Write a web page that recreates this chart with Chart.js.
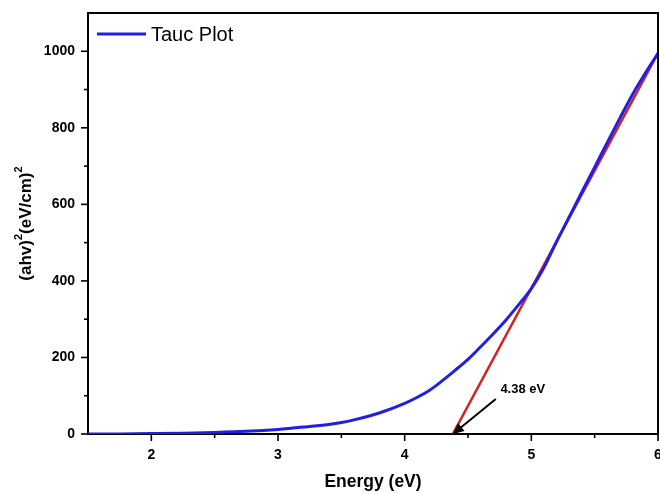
<!DOCTYPE html>
<html>
<head>
<meta charset="utf-8">
<script src="https://cdn.jsdelivr.net/npm/chart.js@4/dist/chart.umd.min.js"></script>
<style>
  html, body { margin: 0; padding: 0; background: #fff; }
  #wrap { width: 660px; height: 494px; }
</style>
</head>
<body>
<div id="wrap"><canvas id="tauc"></canvas></div>
<script>
// Tauc plot data
const energy = [1.5, 1.75, 2, 2.25, 2.5, 2.75, 3, 3.2, 3.4, 3.5, 3.6, 3.8, 4, 4.1, 4.2, 4.3, 4.4, 4.5,
                4.6, 4.7, 4.8, 4.9, 5, 5.1, 5.2, 5.3, 5.4, 5.5, 5.6, 5.7, 5.8, 5.9, 6];
const absorption = [0, 0.3, 1, 2, 4, 7, 12, 18, 25, 30, 37, 55, 80, 96, 115, 140, 167, 195,
                    228, 262, 298, 338, 380, 435, 503, 568, 633, 697, 762, 826, 888, 943, 995];
// linear fit extrapolated to the energy axis
const fitEnergy = [4.38, 6];
const fitValue = [0, 995];
const xTicks = [2, 3, 4, 5, 6];
const yTicks = [0, 200, 400, 600, 800, 1000];
const seriesName = 'Tauc Plot';
const gapLabel = '4.38 eV';
const gapEnergy = 4.38;

const FONT = "'Liberation Sans', Arial, sans-serif";
const BLUE = '#1f1fe8';

// frame, minor ticks, legend, y title and the band gap arrow
const extras = {
    id: 'extras',
    afterDraw(chart) {
        const ctx = chart.ctx;
        const a = chart.chartArea;
        const x = chart.scales.x, y = chart.scales.y;
        ctx.save();
        ctx.strokeStyle = '#000';
        ctx.lineWidth = 2;
        // top + right frame
        ctx.beginPath();
        ctx.moveTo(a.left, a.top);
        ctx.lineTo(a.right, a.top);
        ctx.lineTo(a.right, a.bottom);
        ctx.stroke();

        // ticks (outward)
        ctx.lineWidth = 1.6;
        x.ticks.forEach(t => {
            const px = x.getPixelForValue(t.value);
            if (px <= a.left + 1 || px > a.right + 1) return;
            const len = Number.isInteger(t.value) ? 7 : 4;
            ctx.beginPath();
            ctx.moveTo(px, a.bottom);
            ctx.lineTo(px, a.bottom + len);
            ctx.stroke();
        });
        y.ticks.forEach(t => {
            const py = y.getPixelForValue(t.value);
            if (py < a.top + 1) return;
            const len = t.value % 200 === 0 ? 7 : 4;
            ctx.beginPath();
            ctx.moveTo(a.left, py);
            ctx.lineTo(a.left - len, py);
            ctx.stroke();
        });

        // legend
        ctx.strokeStyle = BLUE;
        ctx.lineWidth = 3;
        ctx.beginPath();
        ctx.moveTo(a.left + 9, a.top + 21);
        ctx.lineTo(a.left + 58, a.top + 21);
        ctx.stroke();
        ctx.fillStyle = '#000';
        ctx.font = `20px ${FONT}`;
        ctx.textAlign = 'left';
        ctx.textBaseline = 'middle';
        ctx.fillText(seriesName, a.left + 63, a.top + 22);

        // y axis title with superscripts
        const parts = [['(ahv)', 17, 0], ['2', 11, -7], ['(eV/cm)', 17, 0], ['2', 11, -7]];
        let total = 0;
        parts.forEach(p => { ctx.font = `bold ${p[1]}px ${FONT}`; total += ctx.measureText(p[0]).width; });
        ctx.translate(26, (a.top + a.bottom) / 2);
        ctx.rotate(-Math.PI / 2);
        ctx.textBaseline = 'middle';
        ctx.textAlign = 'left';
        let cx = -total / 2;
        parts.forEach(p => {
            ctx.font = `bold ${p[1]}px ${FONT}`;
            ctx.fillText(p[0], cx, p[2]);
            cx += ctx.measureText(p[0]).width;
        });
        ctx.setTransform(1, 0, 0, 1, 0, 0);

        // arrow pointing at the intercept
        const tipX = x.getPixelForValue(gapEnergy), tipY = y.getPixelForValue(0);
        const sx = tipX + 43, sy = tipY - 35;
        const ang = Math.atan2(tipY - sy, tipX - sx);
        ctx.strokeStyle = '#000';
        ctx.lineWidth = 2;
        ctx.beginPath();
        ctx.moveTo(sx, sy);
        ctx.lineTo(tipX - 8 * Math.cos(ang), tipY - 8 * Math.sin(ang));
        ctx.stroke();
        ctx.beginPath();
        ctx.moveTo(tipX, tipY);
        ctx.lineTo(tipX - 11 * Math.cos(ang) + 5 * Math.sin(ang), tipY - 11 * Math.sin(ang) - 5 * Math.cos(ang));
        ctx.lineTo(tipX - 11 * Math.cos(ang) - 5 * Math.sin(ang), tipY - 11 * Math.sin(ang) + 5 * Math.cos(ang));
        ctx.closePath();
        ctx.fill();
        ctx.font = `bold 13px ${FONT}`;
        ctx.textAlign = 'center';
        ctx.fillText(gapLabel, tipX + 70, tipY - 45);
        ctx.restore();
    }
};

new Chart(document.getElementById('tauc'), {
    type: 'scatter',
    data: {
        datasets: [{
            label: seriesName,
            data: energy.map((e, i) => ({ x: e, y: absorption[i] })),
            showLine: true,
            borderColor: BLUE,
            borderWidth: 3,
            pointRadius: 0,
            cubicInterpolationMode: 'monotone'
        }, {
            label: 'fit',
            data: fitEnergy.map((e, i) => ({ x: e, y: fitValue[i] })),
            showLine: true,
            borderColor: '#d42020',
            borderWidth: 2.5,
            pointRadius: 0
        }]
    },
    options: {
        responsive: true,
        maintainAspectRatio: false,
        animation: false,
        layout: { padding: { top: 13, right: 2, left: 0, bottom: 0 } },
        plugins: {
            tooltip: { enabled: false },
            legend: { display: false }
        },
        scales: {
            x: {
                type: 'linear',
                min: 1.5,
                max: 6,
                afterFit: s => { s.height = 60; s.paddingLeft = 0; s.paddingRight = 0; },
                afterBuildTicks: s => { s.ticks = [1.5, 2, 2.5, 3, 3.5, 4, 4.5, 5, 5.5, 6].map(v => ({ value: v })); },
                grid: { display: false, drawTicks: false },
                border: { color: '#000', width: 2 },
                ticks: {
                    autoSkip: false,
                    maxRotation: 0,
                    padding: 13,
                    color: '#000',
                    font: { family: FONT, size: 14, weight: 'bold' },
                    callback: v => xTicks.includes(v) ? String(v) : ''
                },
                title: {
                    display: true,
                    text: 'Energy (eV)',
                    color: '#000',
                    padding: { bottom: 1 },
                    font: { family: FONT, size: 17.5, weight: 'bold' }
                }
            },
            y: {
                min: 0,
                max: 1100,
                afterFit: s => { s.width = 88; s.paddingTop = 0; s.paddingBottom = 0; },
                grid: { display: false, drawTicks: false },
                border: { color: '#000', width: 2 },
                ticks: {
                    stepSize: 100,
                    autoSkip: false,
                    padding: 13,
                    color: '#000',
                    font: { family: FONT, size: 14, weight: 'bold' },
                    callback: v => yTicks.includes(v) ? String(v) : ''
                }
            }
        }
    },
    plugins: [extras]
});
</script>
</body>
</html>
